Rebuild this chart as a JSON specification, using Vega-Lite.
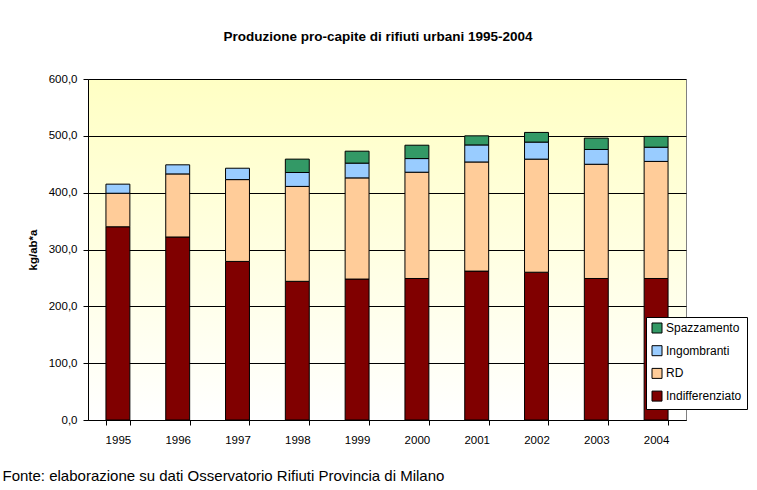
{
  "$schema": "https://vega.github.io/schema/vega-lite/v6.json",
  "width": 598,
  "height": 341,
  "autosize": {"type": "none"},
  "padding": {"left": 88, "top": 79, "right": 71, "bottom": 70},
  "background": "white",
  "title": {
    "text": "Produzione pro-capite di rifiuti urbani 1995-2004",
    "font": "Liberation Sans",
    "fontSize": 13.5,
    "fontWeight": "bold",
    "color": "black",
    "anchor": "middle",
    "dx": -9,
    "offset": 30
  },
  "data": {
    "values": [
      {"year": "1995", "cat": "Indifferenziato", "value": 340},
      {"year": "1995", "cat": "RD", "value": 59},
      {"year": "1995", "cat": "Ingombranti", "value": 16},
      {"year": "1996", "cat": "Indifferenziato", "value": 322},
      {"year": "1996", "cat": "RD", "value": 111},
      {"year": "1996", "cat": "Ingombranti", "value": 16},
      {"year": "1997", "cat": "Indifferenziato", "value": 279},
      {"year": "1997", "cat": "RD", "value": 144},
      {"year": "1997", "cat": "Ingombranti", "value": 20},
      {"year": "1998", "cat": "Indifferenziato", "value": 244},
      {"year": "1998", "cat": "RD", "value": 167},
      {"year": "1998", "cat": "Ingombranti", "value": 24.5},
      {"year": "1998", "cat": "Spazzamento", "value": 23.5},
      {"year": "1999", "cat": "Indifferenziato", "value": 248},
      {"year": "1999", "cat": "RD", "value": 178},
      {"year": "1999", "cat": "Ingombranti", "value": 26},
      {"year": "1999", "cat": "Spazzamento", "value": 21},
      {"year": "2000", "cat": "Indifferenziato", "value": 249},
      {"year": "2000", "cat": "RD", "value": 187},
      {"year": "2000", "cat": "Ingombranti", "value": 24},
      {"year": "2000", "cat": "Spazzamento", "value": 23.5},
      {"year": "2001", "cat": "Indifferenziato", "value": 262},
      {"year": "2001", "cat": "RD", "value": 192},
      {"year": "2001", "cat": "Ingombranti", "value": 30},
      {"year": "2001", "cat": "Spazzamento", "value": 16},
      {"year": "2002", "cat": "Indifferenziato", "value": 260},
      {"year": "2002", "cat": "RD", "value": 199},
      {"year": "2002", "cat": "Ingombranti", "value": 30},
      {"year": "2002", "cat": "Spazzamento", "value": 17},
      {"year": "2003", "cat": "Indifferenziato", "value": 249},
      {"year": "2003", "cat": "RD", "value": 201},
      {"year": "2003", "cat": "Ingombranti", "value": 26},
      {"year": "2003", "cat": "Spazzamento", "value": 20},
      {"year": "2004", "cat": "Indifferenziato", "value": 249},
      {"year": "2004", "cat": "RD", "value": 206},
      {"year": "2004", "cat": "Ingombranti", "value": 25},
      {"year": "2004", "cat": "Spazzamento", "value": 19}
    ]
  },
  "mark": {"type": "bar", "stroke": "black", "strokeWidth": 1, "strokeOpacity": 1},
  "encoding": {
    "x": {
      "field": "year",
      "type": "ordinal",
      "scale": {"paddingInner": 0.6, "paddingOuter": 0.3},
      "axis": {
        "title": "Fonte: elaborazione su dati Osservatorio Rifiuti Provincia di Milano",
        "titleFont": "Liberation Sans",
        "titleFontSize": 15,
        "titleFontWeight": "normal",
        "titleColor": "black",
        "titleAnchor": "start",
        "titleAlign": "left",
        "titleBaseline": "alphabetic",
        "titleX": -86,
        "titleY": 60,
        "labelAngle": 0,
        "labelFont": "Liberation Sans",
        "labelFontSize": 11.5,
        "labelColor": "black",
        "labelPadding": 9,
        "tickBand": "extent",
        "tickSize": 5,
        "tickColor": "black",
        "domainColor": "black",
        "grid": false
      }
    },
    "y": {
      "field": "value",
      "type": "quantitative",
      "stack": "zero",
      "scale": {"domain": [0, 600], "nice": false},
      "axis": {
        "title": "kg/ab*a",
        "titleFont": "Liberation Sans",
        "titleFontSize": 11.5,
        "titleFontWeight": "bold",
        "titleColor": "black",
        "titlePadding": 10,
        "values": [0, 100, 200, 300, 400, 500, 600],
        "format": ".1f",
        "labelFont": "Liberation Sans",
        "labelFontSize": 11.5,
        "labelColor": "black",
        "labelPadding": 6,
        "tickSize": 5,
        "tickColor": "black",
        "domainColor": "black",
        "grid": true,
        "gridColor": "black",
        "gridOpacity": 1,
        "gridWidth": 1
      }
    },
    "order": {"field": "value", "type": "quantitative", "sort": "descending"},
    "color": {
      "field": "cat",
      "type": "nominal",
      "scale": {
        "domain": ["Spazzamento", "Ingombranti", "RD", "Indifferenziato"],
        "range": ["#339966", "#99CCFF", "#FFCC99", "#800000"]
      },
      "legend": {
        "title": null,
        "orient": "none",
        "legendX": 558,
        "legendY": 238,
        "direction": "vertical",
        "fillColor": "white",
        "strokeColor": "black",
        "padding": 5,
        "symbolType": "square",
        "symbolSize": 100,
        "symbolStrokeColor": "black",
        "symbolStrokeWidth": 1,
        "symbolOpacity": 1,
        "labelFont": "Liberation Sans",
        "labelFontSize": 12,
        "labelColor": "black",
        "labelOffset": 3,
        "rowPadding": 8.7
      }
    }
  },
  "config": {
    "locale": {"number": {"decimal": ",", "thousands": ".", "grouping": [3], "currency": ["€", ""]}},
    "view": {
      "stroke": "#808080",
      "strokeWidth": 1,
      "fill": {
        "gradient": "linear",
        "x1": 0, "y1": 0, "x2": 0, "y2": 1,
        "stops": [
          {"offset": 0, "color": "#FFFFC4"},
          {"offset": 1, "color": "#FFFFFF"}
        ]
      }
    }
  }
}
